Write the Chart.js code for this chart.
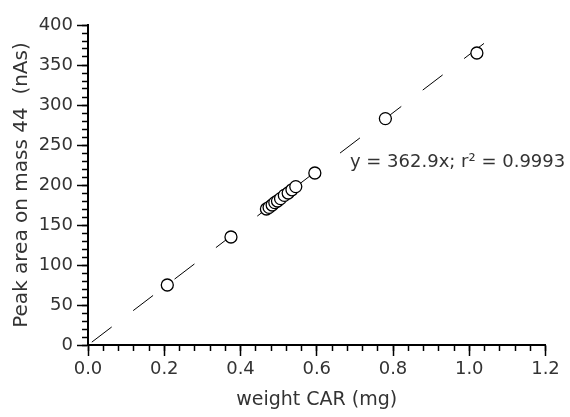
<!DOCTYPE html>
<html>
<head>
<meta charset="utf-8">
<title>Peak area vs weight CAR</title>
<script src="https://cdn.jsdelivr.net/npm/chart.js@4"></script>
<style>
  body { margin: 0; background: #fff; }
  #wrap { width: 570px; height: 417px; }
</style>
</head>
<body>
<div id="wrap"><canvas id="calChart" width="570" height="417"></canvas></div>
<script>
// Measured standards: weight of CAR (mg) vs peak area on mass 44 (nAs)
const weightMg = [0.208, 0.375, 0.468, 0.475, 0.483, 0.49, 0.497, 0.505, 0.515, 0.525, 0.535, 0.545, 0.595, 0.78, 1.02];
const peakArea = [75, 135, 170, 172, 175, 178, 180, 183, 187, 190, 194, 198, 215, 283, 365];

// Regression line end points (y = 362.9x)
const fitX = [0.01, 1.09];
const fitY = [3.6, 395.6];

const eqText = "y = 362.9x; r\u00b2 = 0.9993";
const eqAnchor = [0.687, 222.5];

const xTicksMajor = { min: 0, max: 1.2, step: 0.2 };
const xTicksMinor = 0.04;
const yTicksMajor = { min: 0, max: 400, step: 50 };
const yTicksMinor = 10;

const FONT = "'DejaVu Sans', sans-serif";
const TEXT = "#333";

// Draws the fit equation at a data position
const eqLabel = {
  id: "eqLabel",
  afterDatasetsDraw(chart) {
    const { ctx, scales } = chart;
    const px = scales.x.getPixelForValue(eqAnchor[0]);
    const py = scales.y.getPixelForValue(eqAnchor[1]);
    ctx.save();
    ctx.font = "18px " + FONT;
    ctx.fillStyle = TEXT;
    ctx.textAlign = "left";
    ctx.textBaseline = "alphabetic";
    ctx.fillText(eqText, px, py);
    ctx.restore();
  },
};

function pairs(xs, ys) {
  return xs.map((x, i) => ({ x: x, y: ys[i] }));
}

document.addEventListener("DOMContentLoaded", () => {
  const ctx = document.getElementById("calChart").getContext("2d");

  new Chart(ctx, {
    type: "scatter",
    data: {
      datasets: [
        {
          label: "standards",
          data: pairs(weightMg, peakArea),
          pointRadius: 6,
          pointBorderWidth: 1.3,
          pointBorderColor: "#000",
          pointBackgroundColor: "#fff",
          order: 0,
        },
        {
          type: "line",
          label: "fit",
          data: pairs(fitX, fitY),
          borderColor: "#000",
          borderWidth: 1,
          borderDash: [25, 27],
          pointRadius: 0,
          fill: false,
          order: 1,
        },
      ],
    },
    options: {
      responsive: false,
      devicePixelRatio: 1,
      animation: false,
      layout: { padding: { top: 25, right: 24.5, left: 0, bottom: 0 } },
      plugins: {
        legend: { display: false },
        tooltip: { enabled: false },
      },
      scales: {
        x: {
          type: "linear",
          position: "bottom",
          weight: 1,
          min: xTicksMajor.min,
          max: xTicksMajor.max,
          afterFit: (s) => { s.height = 72; },
          border: { display: true, color: "#000", width: 2 },
          grid: { drawOnChartArea: false, drawTicks: true, tickLength: 11, tickWidth: 1.5, tickColor: "#000" },
          ticks: {
            stepSize: xTicksMajor.step,
            autoSkip: false,
            maxRotation: 0,
            padding: 3,
            color: TEXT,
            font: { family: FONT, size: 18 },
            callback: (v) => Number(v).toFixed(1),
          },
          title: {
            display: true,
            text: "weight CAR (mg)",
            color: TEXT,
            font: { family: FONT, size: 19, lineHeight: 1.2 },
            padding: { top: 0, bottom: 6 },
          },
        },
        xMinor: {
          type: "linear",
          position: "bottom",
          weight: 0,
          min: xTicksMajor.min,
          max: xTicksMajor.max,
          afterFit: (s) => { s.height = 0; },
          border: { display: false },
          grid: { drawOnChartArea: false, drawTicks: true, tickLength: 6, tickWidth: 1.5, tickColor: "#000" },
          ticks: { stepSize: xTicksMinor, display: false, autoSkip: false },
        },
        y: {
          type: "linear",
          position: "left",
          weight: 1,
          min: yTicksMajor.min,
          max: yTicksMajor.max,
          afterFit: (s) => { s.width = 88; },
          border: { display: true, color: "#000", width: 2 },
          grid: { drawOnChartArea: false, drawTicks: true, tickLength: 11, tickWidth: 1.5, tickColor: "#000" },
          ticks: {
            stepSize: yTicksMajor.step,
            autoSkip: false,
            padding: 4,
            color: TEXT,
            font: { family: FONT, size: 18 },
          },
          title: {
            display: true,
            text: "Peak area on mass 44  (nAs)",
            color: TEXT,
            font: { family: FONT, size: 20, lineHeight: 1.2 },
            padding: { top: 9.5, bottom: 0 },
          },
        },
        yMinor: {
          type: "linear",
          position: "left",
          weight: 0,
          min: yTicksMajor.min,
          max: yTicksMajor.max,
          afterFit: (s) => { s.width = 0; },
          border: { display: false },
          grid: { drawOnChartArea: false, drawTicks: true, tickLength: 6, tickWidth: 1.5, tickColor: "#000" },
          ticks: { stepSize: yTicksMinor, display: false, autoSkip: false },
        },
      },
    },
    plugins: [eqLabel],
  });
});
</script>
</body>
</html>
